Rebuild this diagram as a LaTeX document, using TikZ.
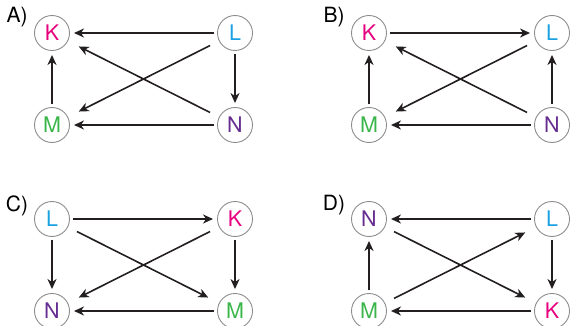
\documentclass[tikz,border=0pt]{standalone}
\usepackage{fontspec}
\setmainfont{TeX Gyre Heros}
\usetikzlibrary{arrows.meta}
\definecolor{kcol}{HTML}{E6007E}
\definecolor{lcol}{HTML}{1BA1E2}
\definecolor{mcol}{HTML}{39B54A}
\definecolor{ncol}{HTML}{662D91}
\definecolor{ink}{HTML}{231F20}
\definecolor{rim}{HTML}{8C8C8C}

\begin{document}
\begin{tikzpicture}[x=1pt, y=-1pt,
    ball/.style={circle, draw=rim, line width=0.9pt, minimum size=35pt, inner sep=0pt,
        font=\fontsize{21.5}{25}\selectfont},
    tag/.style={font=\fontsize{21}{25}\selectfont},
    edge/.style={-{Stealth[length=10pt, width=9pt, inset=3pt]}, line width=1.6pt, ink,
        shorten <=3pt, shorten >=4pt},
    cross/.style={edge, shorten <=10pt, shorten >=12pt}]
    \useasboundingbox (0, 0) rectangle (570, 326);

    % Panel A
    \node[tag] (tA) at (17, 17) {A)};
    \node[ball, text=kcol] (Ka) at (52, 33) {K};
    \node[ball, text=lcol] (La) at (235, 33) {L};
    \node[ball, text=mcol] (Ma) at (52, 125) {M};
    \node[ball, text=ncol] (Na) at (235, 125) {N};
    \draw[edge] (La) -- (Ka);
    \draw[edge] (La) -- (Na);
    \draw[edge] (Ma) -- (Ka);
    \draw[edge] (Na) -- (Ma);
    \draw[cross] (La) -- (Ma);
    \draw[cross] (Na) -- (Ka);

    % Panel B
    \node[tag] (tB) at (334, 17) {B)};
    \node[ball, text=kcol] (Kb) at (369, 33) {K};
    \node[ball, text=lcol] (Lb) at (552, 33) {L};
    \node[ball, text=mcol] (Mb) at (369, 125) {M};
    \node[ball, text=ncol] (Nb) at (552, 125) {N};
    \draw[edge] (Kb) -- (Lb);
    \draw[edge] (Mb) -- (Kb);
    \draw[edge] (Nb) -- (Lb);
    \draw[edge] (Nb) -- (Mb);
    \draw[cross] (Lb) -- (Mb);
    \draw[cross] (Nb) -- (Kb);

    % Panel C
    \node[tag] (tC) at (17, 206) {C)};
    \node[ball, text=lcol] (Lc) at (52, 219) {L};
    \node[ball, text=kcol] (Kc) at (235, 219) {K};
    \node[ball, text=ncol] (Nc) at (52, 311) {N};
    \node[ball, text=mcol] (Mc) at (235, 311) {M};
    \draw[edge] (Lc) -- (Kc);
    \draw[edge] (Lc) -- (Nc);
    \draw[edge] (Kc) -- (Mc);
    \draw[edge] (Mc) -- (Nc);
    \draw[cross] (Kc) -- (Nc);
    \draw[cross] (Lc) -- (Mc);

    % Panel D
    \node[tag] (tD) at (334, 205) {D)};
    \node[ball, text=ncol] (Nd) at (369, 219) {N};
    \node[ball, text=lcol] (Ld) at (552, 219) {L};
    \node[ball, text=mcol] (Md) at (369, 311) {M};
    \node[ball, text=kcol] (Kd) at (552, 311) {K};
    \draw[edge] (Ld) -- (Nd);
    \draw[edge] (Md) -- (Nd);
    \draw[edge] (Ld) -- (Kd);
    \draw[edge] (Kd) -- (Md);
    \draw[cross] (Nd) -- (Kd);
    \draw[cross] (Md) -- (Ld);

\end{tikzpicture}
\end{document}
